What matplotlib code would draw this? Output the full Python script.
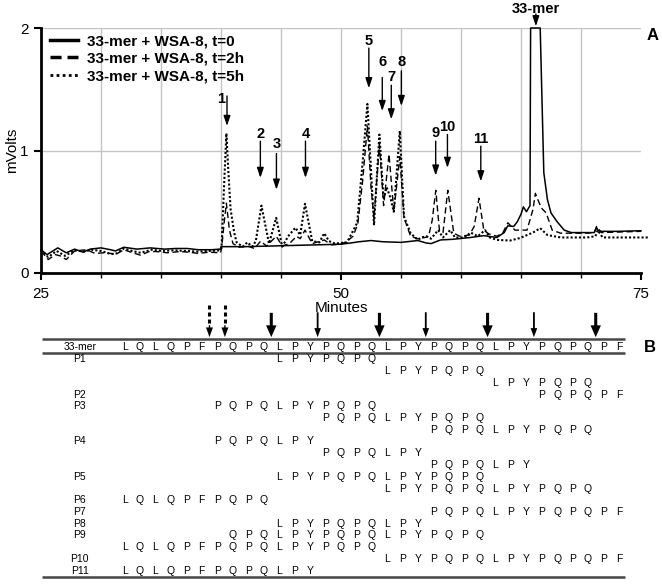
import matplotlib
matplotlib.use('Agg')
import matplotlib.pyplot as plt
from matplotlib.lines import Line2D

plt.rcParams['font.family'] = 'Liberation Sans'

# ---- panel A: chromatograms (minutes, mVolts) ----
t0_min = [25.0, 25.5, 26.4, 27.1, 27.8, 28.5, 29.1, 30.0, 30.8, 31.2, 31.9, 33.0, 34.1, 35.3,
          36.2, 37.2, 38.1, 39.2, 39.95, 40.0, 42.0, 44.0, 46.0, 48.0, 50.0, 50.8, 51.5, 52.5,
          53.5, 55.0, 56.4, 57.1, 57.5, 58.3, 59.3, 60.8, 61.9, 63.0, 63.6, 63.9, 64.4, 64.7,
          65.0, 65.2, 65.45, 65.75, 65.8, 66.6, 66.9, 67.2, 67.5, 68.0, 68.6, 69.2, 70.0, 71.1,
          71.3, 71.45, 71.7, 73.0, 75.0]
t0_mv = [0.19, 0.15, 0.205, 0.165, 0.195, 0.17, 0.195, 0.205, 0.19, 0.18, 0.21, 0.195, 0.205, 0.195,
         0.2, 0.2, 0.19, 0.19, 0.195, 0.215, 0.215, 0.22, 0.225, 0.23, 0.235, 0.245, 0.255, 0.265,
         0.255, 0.25, 0.265, 0.245, 0.24, 0.27, 0.275, 0.29, 0.305, 0.29, 0.33, 0.385, 0.38, 0.42,
         0.48, 0.54, 0.5, 0.55, 2.0, 2.0, 0.82, 0.6, 0.49, 0.42, 0.35, 0.33, 0.33, 0.33,
         0.37, 0.345, 0.34, 0.34, 0.345]

t2_min = [25.0, 25.6, 26.2, 26.6, 27.1, 27.8, 28.8, 29.5, 30.2, 30.8, 31.2, 31.9, 32.5, 33.3,
          34.0, 34.6, 35.5, 36.6, 37.3, 38.1, 39.0, 39.95, 40.05, 40.25, 40.45, 40.7, 41.0, 41.5,
          42.2, 42.8, 43.3, 43.8, 44.6, 45.1, 45.7, 46.3, 46.6, 47.0, 47.6, 48.6, 49.2, 50.0,
          50.5, 51.0, 51.4, 51.8, 52.2, 52.5, 52.75, 53.2, 53.55, 54.0, 54.4, 54.9, 55.25, 55.8,
          56.4, 57.0, 57.3, 57.6, 57.9, 58.2, 58.5, 58.9, 59.4, 59.9, 60.7, 61.1, 61.5, 61.9,
          62.3, 63.0, 63.5, 63.9, 64.5, 65.5, 66.0, 66.2, 66.4, 66.7, 67.1, 67.6, 68.3, 70.5,
          71.1, 71.3, 71.7, 75.0]
t2_mv = [0.18, 0.11, 0.15, 0.14, 0.11, 0.18, 0.19, 0.16, 0.165, 0.16, 0.15, 0.19, 0.17, 0.145,
         0.175, 0.175, 0.165, 0.175, 0.17, 0.16, 0.17, 0.165, 0.2, 0.4, 0.57, 0.35, 0.24, 0.21,
         0.22, 0.2, 0.26, 0.22, 0.3, 0.22, 0.24, 0.3, 0.28, 0.35, 0.24, 0.27, 0.23, 0.235,
         0.26, 0.3, 0.4, 0.75, 1.2, 0.7, 0.45, 1.05, 0.55, 0.97, 0.5, 0.95, 0.45, 0.3,
         0.28, 0.29, 0.3, 0.43, 0.675, 0.35, 0.33, 0.675, 0.325, 0.3, 0.31, 0.38, 0.61, 0.35,
         0.32, 0.3, 0.33, 0.41, 0.35, 0.35, 0.52, 0.65, 0.6, 0.53, 0.49, 0.35, 0.325, 0.325,
         0.33, 0.38, 0.33, 0.34]

t5_min = [25.0, 25.6, 26.3, 27.0, 27.8, 28.6, 29.2, 30.0, 30.8, 31.3, 31.9, 32.6, 33.3, 34.2,
          35.0, 36.0, 37.0, 38.0, 39.0, 39.95, 40.05, 40.25, 40.45, 40.6, 40.8, 41.1, 41.3, 41.8,
          42.2, 42.6, 42.9, 43.37, 44.0, 44.6, 45.1, 45.6, 46.2, 46.6, 47.0, 47.6, 48.2, 48.6,
          49.0, 49.5, 50.5, 50.9, 51.35, 51.8, 52.2, 52.75, 53.2, 53.55, 53.8, 54.1, 54.4, 54.9,
          55.25, 55.8, 56.4, 56.7, 57.1, 57.5, 58.1, 58.5, 59.1, 59.5, 60.3, 60.8, 61.4, 62.0,
          62.4, 63.0, 64.1, 64.9, 66.0, 66.6, 67.2, 68.3, 70.5, 71.2, 71.4, 71.8, 73.0, 75.7]
t5_mv = [0.19, 0.13, 0.18, 0.14, 0.185, 0.175, 0.19, 0.18, 0.155, 0.16, 0.2, 0.18, 0.165, 0.19,
         0.18, 0.185, 0.18, 0.175, 0.18, 0.185, 0.21, 0.7, 1.14, 0.85, 0.52, 0.33, 0.25, 0.215,
         0.25, 0.215, 0.26, 0.55, 0.24, 0.45, 0.215, 0.3, 0.37, 0.31, 0.565, 0.26, 0.25, 0.325,
         0.26, 0.24, 0.25, 0.325, 0.41, 0.9, 1.38, 0.39, 1.13, 0.6, 0.7, 0.62, 0.5, 1.16,
         0.46, 0.325, 0.27, 0.29, 0.3, 0.28, 0.35, 0.29, 0.35, 0.29, 0.29, 0.33, 0.3, 0.35,
         0.29, 0.27, 0.265, 0.285, 0.33, 0.366, 0.31, 0.29, 0.29, 0.3, 0.35, 0.29, 0.29, 0.29]

peak_names = ['1', '2', '3', '4', '5', '6', '7', '8', '9', '10', '11', '33-mer']
peak_min = [40.5, 43.28, 44.62, 47.04, 52.32, 53.44, 54.19, 55.03, 57.89, 58.87, 61.65, 66.24]
arrow_from = [1.445, 1.076, 0.975, 1.076, 1.836, 1.596, 1.533, 1.65, 1.076, 1.131, 1.035, 2.115]
arrow_to = [1.2, 0.776, 0.68, 0.776, 1.508, 1.322, 1.254, 1.363, 0.795, 0.858, 0.748, 2.014]
label_mv = [1.418, 1.131, 1.057, 1.131, 1.896, 1.719, 1.596, 1.719, 1.145, 1.194, 1.09, 2.156]

# ---- panel B: cleavage map of the 33-mer ----
sequence = 'LQLQPFPQPQLPYPQPQLPYPQPQLPYPQPQPF'
fragments = [('P1', 11, 17), ('', 18, 24), ('', 25, 31), ('P2', 28, 33),
             ('P3', 7, 17), ('', 14, 24), ('', 21, 31),
             ('P4', 7, 13), ('', 14, 20), ('', 21, 27),
             ('P5', 11, 24), ('', 18, 31),
             ('P6', 1, 10), ('P7', 21, 33), ('P8', 11, 20),
             ('P9', 8, 24), ('', 1, 17), ('P10', 18, 33), ('P11', 1, 13)]
major_cuts = [10, 17, 24, 31]   # cleavage after Q
minor_cuts = [13, 20, 27]       # cleavage after Y
weak_cuts = [6, 7]              # dotted arrows

W, H = 662, 585
fig = plt.figure(figsize=(W / 100, H / 100), dpi=100)
ax = fig.add_axes([41 / W, 1 - 273 / H, 600 / W, 245 / H])
ax.set_xlim(25, 75)
ax.set_ylim(0, 2)

for m in range(30, 75, 5):
    ax.axvline(m, color='#c4c4c4', lw=1, zorder=0)
for v in (1, 2):
    ax.axhline(v, color='#c4c4c4', lw=1, zorder=0)

ax.plot(t0_min, t0_mv, color='black', lw=1.1, clip_on=False, zorder=3)
ax.plot(t2_min, t2_mv, color='black', lw=1.0, ls=(0, (4.5, 2.5)), clip_on=False, zorder=3)
ax.plot(t5_min, t5_mv, color='black', lw=1.5, ls=(0, (1, 1)), clip_on=False, zorder=3)

for name, t, a0, a1, ly in zip(peak_names, peak_min, arrow_from, arrow_to, label_mv):
    ax.annotate('', xy=(t, a1), xytext=(t, a0), annotation_clip=False,
                arrowprops=dict(arrowstyle='-|>,head_length=0.6,head_width=0.2', mutation_scale=10,
                                color='black', lw=1.0, shrinkA=0, shrinkB=0))
    if name == '1':
        ax.annotate(name, xy=(t, ly), xytext=(-1.5, 0), textcoords='offset points',
                    ha='right', va='center', fontsize=10.5, fontweight='bold')
    else:
        ax.text(t, ly, name, ha='center', va='center', fontsize=10.5, fontweight='bold', clip_on=False)

for s in ('top', 'right'):
    ax.spines[s].set_visible(False)
for s in ('left', 'bottom'):
    ax.spines[s].set_linewidth(2)

ax.set_xticks([25, 50, 75])
ax.set_xticks(range(30, 75, 5), minor=True)
ax.set_yticks([0, 1, 2])
ax.tick_params(which='major', length=5, width=1.5, labelsize=11, pad=5)
ax.tick_params(axis='y', which='major', pad=4)
ax.tick_params(which='minor', length=3.5, width=1)
ax.set_xlabel('Minutes', fontsize=11, labelpad=0)
ax.set_ylabel('mVolts', fontsize=11, labelpad=1)

handles = [Line2D([], [], color='black', lw=2.5),
           Line2D([], [], color='black', lw=2.5, ls=(0, (3.2, 1.7))),
           Line2D([], [], color='black', lw=2.0, ls=(0, (1, 1.2)))]
labels = ['33-mer + WSA-8, t=0', '33-mer + WSA-8, t=2h', '33-mer + WSA-8, t=5h']
ax.legend(handles, labels, loc='upper left', bbox_to_anchor=(9 / 600, 1 - 6 / 245),
          frameon=False, borderaxespad=0, borderpad=0, handlelength=1.85, handletextpad=0.55,
          labelspacing=0.25, prop={'weight': 'bold', 'size': 11})

fig.text(653 / W, 1 - 35 / H, 'A', fontsize=12, fontweight='bold', ha='center', va='center')

# panel B drawn on a full-figure axes whose units are residue columns / table rows
axb = fig.add_axes([0, 0, 1, 1], facecolor='none')
axb.set_axis_off()
col_px0, col_step = 124.5, 15.45
row_px0, row_step = 347.5, 11.75
axb.set_xlim((0 - col_px0) / col_step + 1, (W - col_px0) / col_step + 1)
axb.set_ylim((H - row_px0) / row_step, (0 - row_px0) / row_step)
label_col = -1.9

axb.text(label_col, 0, '33-mer', ha='center', va='center', fontsize=7.5)
for i, aa in enumerate(sequence, start=1):
    axb.text(i, 0, aa, ha='center', va='center', fontsize=7.5)
for r, (name, s, e) in enumerate(fragments, start=1):
    if name:
        axb.text(label_col, r, name, ha='center', va='center', fontsize=7.5)
    for c in range(s, e + 1):
        axb.text(c, r, sequence[c - 1], ha='center', va='center', fontsize=7.5)

for y in (-0.72, 0.5, 19.55):
    axb.plot([-4.34, 33.4], [y, y], color='#474747', lw=1.8, solid_capstyle='butt')

for c in major_cuts:
    axb.annotate('', xy=(c + 0.5, -0.88), xytext=(c + 0.5, -2.95),
                 arrowprops=dict(arrowstyle='simple,head_length=0.85,head_width=0.75,tail_width=0.22',
                                 mutation_scale=10, color='black', lw=0, shrinkA=0, shrinkB=0))
for c in minor_cuts:
    axb.annotate('', xy=(c + 0.5, -0.88), xytext=(c + 0.5, -3.0),
                 arrowprops=dict(arrowstyle='simple,head_length=0.65,head_width=0.48,tail_width=0.13',
                                 mutation_scale=10, color='black', lw=0, shrinkA=0, shrinkB=0))
for c in weak_cuts:
    axb.plot([c + 0.5, c + 0.5], [-3.6, -1.85], color='black', lw=2.2, ls=(0, (1.3, 1.0)),
             solid_capstyle='butt')
    axb.annotate('', xy=(c + 0.5, -0.88), xytext=(c + 0.5, -1.9),
                 arrowprops=dict(arrowstyle='simple,head_length=0.7,head_width=0.5,tail_width=0.1',
                                 mutation_scale=10, color='black', lw=0, shrinkA=0, shrinkB=0))

fig.text(650 / W, 1 - 348 / H, 'B', fontsize=12, fontweight='bold', ha='center', va='center')

fig.savefig('out.png', dpi=100)
